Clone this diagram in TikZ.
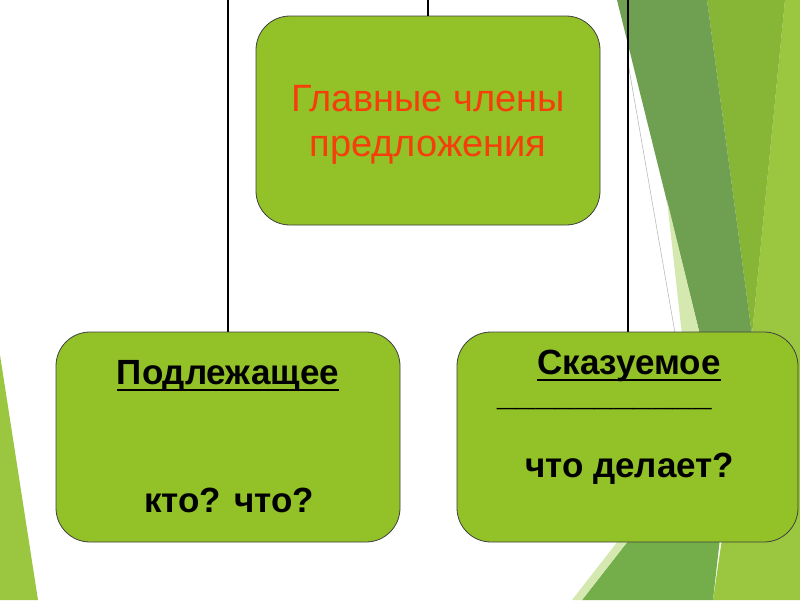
\documentclass[tikz,border=0pt]{standalone}
\usepackage{fontspec}
\setmainfont{Liberation Sans}
\definecolor{boxgreen}{RGB}{146,193,40}
\definecolor{decdark}{RGB}{111,159,80}
\definecolor{decmid}{RGB}{135,182,54}
\definecolor{declight}{RGB}{155,198,63}
\definecolor{declow}{RGB}{115,174,75}
\definecolor{decpale}{RGB}{213,232,176}
\definecolor{titlered}{RGB}{245,62,12}
\newcommand\thickul[1]{\setbox0\hbox{#1}\rlap{\rule[-7pt]{\wd0}{2pt}}\box0}
\begin{document}
\begin{tikzpicture}[x=1pt,y=-1pt,
  box/.style={draw=black!75, line width=0.8pt, fill=boxgreen, rounded corners=34pt, inner sep=0pt},
  link/.style={line width=1.6pt, black},
  lbl/.style={font=\fontsize{35}{40}\selectfont\bfseries, anchor=base, inner sep=0pt},
  ttl/.style={font=\fontsize{38}{45}\selectfont, text=titlered, align=center, inner sep=0pt}]
\useasboundingbox (0,0) rectangle (800,600);
\fill[white] (0,0) rectangle (800,600);
% background decoration
\fill[declight] (0,355) -- (38,600) -- (0,600) -- cycle;
\fill[declight] (785,0) -- (800,0) -- (800,600) -- (713,600) -- (752,335) -- cycle;
\fill[decmid] (707,0) -- (785,0) -- (752,335) -- cycle;
\fill[decdark] (617,0) -- (707,0) -- (752,335) -- (700,335) -- cycle;
\fill[decpale] (667,200) -- (700,335) -- (682,335) -- cycle;
\fill[declow] (582,600) -- (713,600) -- (730,450) -- (699,450) -- cycle;
\fill[decpale] (572,600) -- (582,600) -- (628,541) -- (618,541) -- cycle;
\draw[black!30, line width=0.5pt] (628,63) -- (675,333);
% connector coordinates
\coordinate (c0) at (428,0);
\coordinate (cl) at (228,0);
\coordinate (cr) at (628,0);
\draw[link] (cl) -- (228,333) coordinate (clb);
\draw[link] (cr) -- (628,333) coordinate (crb);
% boxes
\node[box, minimum width=344pt, minimum height=209pt] (top) at (428,120.5) {};
\node[box, minimum width=344pt, minimum height=210pt] (left) at (228,437) {};
\node[box, minimum width=341pt, minimum height=210pt] (right) at (627.5,437) {};
\draw[link] (c0) -- (top.north);
% texts
\node[ttl] (title) at (428,125) {Главные члены\\предложения};
\node[lbl] (subj) at (228,384) {\thickul{Подлежащее}};
\node[lbl] (subjq) at (229,512) {кто? что?};
\node[lbl] (pred) at (629,374) {\thickul{Сказуемое}};
\node[lbl] (predline) at (604.5,405) {\_\_\_\_\_\_\_\_\_\_\_};
\node[lbl] (predq) at (629.5,477) {что делает?};
\end{tikzpicture}
\end{document}
